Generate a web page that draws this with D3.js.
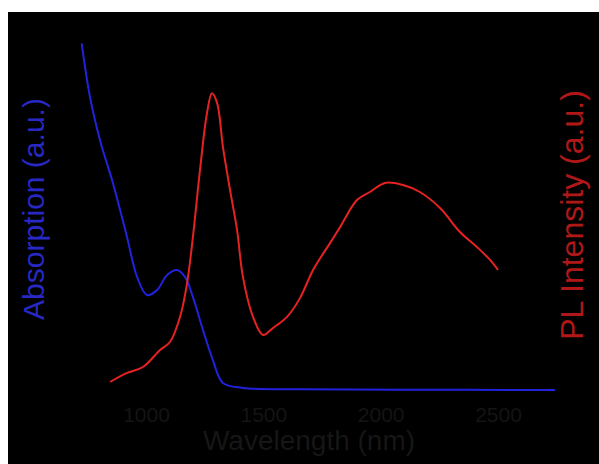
<!DOCTYPE html>
<html><head><meta charset="utf-8">
<script src="https://cdn.jsdelivr.net/npm/d3@7"></script>
<style>html,body{margin:0;padding:0;background:#fff;}svg{display:block;}</style>
</head><body><svg id="c" width="599" height="464"></svg>
<script>
// Absorption spectrum (wavelength nm, a.u.)
const absWavelength = [726, 761, 804, 859, 919, 962, 1004, 1047, 1089, 1132, 1166, 1200, 1243, 1285, 1328, 1413, 1656, 2082, 2743];
const absValue      = [0.996, 0.843, 0.718, 0.595, 0.440, 0.325, 0.273, 0.287, 0.330, 0.345, 0.325, 0.267, 0.172, 0.086, 0.020, 0.006, 0.002, 0.001, 0.0];
// PL spectrum (wavelength nm, a.u.)
const plWavelength = [847, 919, 987, 1060, 1102, 1145, 1175, 1200, 1230, 1260, 1281, 1303, 1328, 1358, 1388, 1413, 1456, 1499, 1541, 1601, 1656, 1712, 1784, 1827, 1899, 1954, 2018, 2095, 2167, 2253, 2338, 2410, 2466, 2500];
const plValue      = [0.023, 0.049, 0.066, 0.115, 0.138, 0.210, 0.307, 0.440, 0.632, 0.796, 0.853, 0.825, 0.698, 0.575, 0.460, 0.325, 0.210, 0.158, 0.178, 0.210, 0.264, 0.345, 0.422, 0.468, 0.546, 0.569, 0.595, 0.589, 0.569, 0.523, 0.454, 0.411, 0.374, 0.345];
const xTicks = [1000, 1500, 2000, 2500];
const xTitle = "Wavelength (nm)";
const yLeftTitle = "Absorption (a.u.)";
const yRightTitle = "PL Intensity (a.u.)";

const svg = d3.select("#c");
svg.append("rect").attr("x", 8).attr("y", 12).attr("width", 591).attr("height", 452).attr("fill", "#000");

const x = d3.scaleLinear().domain([700, 2800]).range([75.6, 568.4]);
const y = d3.scaleLinear().domain([0, 1]).range([390, 42]);

const absData = absWavelength.map((w, i) => [w, absValue[i]]);
const plData = plWavelength.map((w, i) => [w, plValue[i]]);
const line = d3.line().x(d => x(d[0])).y(d => y(d[1])).curve(d3.curveCatmullRom.alpha(0.5));

svg.append("path").datum(absData).attr("d", line).attr("fill", "none")
  .attr("stroke", "#2222dd").attr("stroke-width", 2);
svg.append("path").datum(plData).attr("d", line).attr("fill", "none")
  .attr("stroke", "#e62222").attr("stroke-width", 2);

const xAxis = d3.axisBottom(x).tickValues(xTicks).tickSize(0).tickPadding(0).tickFormat(d3.format("d"));
const gx = svg.append("g").attr("transform", "translate(0,406)").call(xAxis);
gx.select(".domain").remove();
gx.selectAll("text").attr("fill", "#141414").attr("font-family", "Liberation Sans, Arial, sans-serif")
  .attr("font-size", 21).attr("dy", "0.75em");

svg.append("text").attr("x", 309).attr("y", 450).attr("text-anchor", "middle")
  .attr("fill", "#161616").attr("font-family", "Liberation Sans, Arial, sans-serif").attr("font-size", 28)
  .text(xTitle);

svg.append("text").attr("transform", "translate(44,209) rotate(-90)").attr("text-anchor", "middle")
  .attr("fill", "#2828c4").attr("font-family", "Liberation Sans, Arial, sans-serif").attr("font-size", 30)
  .text(yLeftTitle);

svg.append("text").attr("transform", "translate(583,215) rotate(-90)").attr("text-anchor", "middle")
  .attr("fill", "#b01818").attr("font-family", "Liberation Sans, Arial, sans-serif").attr("font-size", 32)
  .text(yRightTitle);
</script>
</body></html>
